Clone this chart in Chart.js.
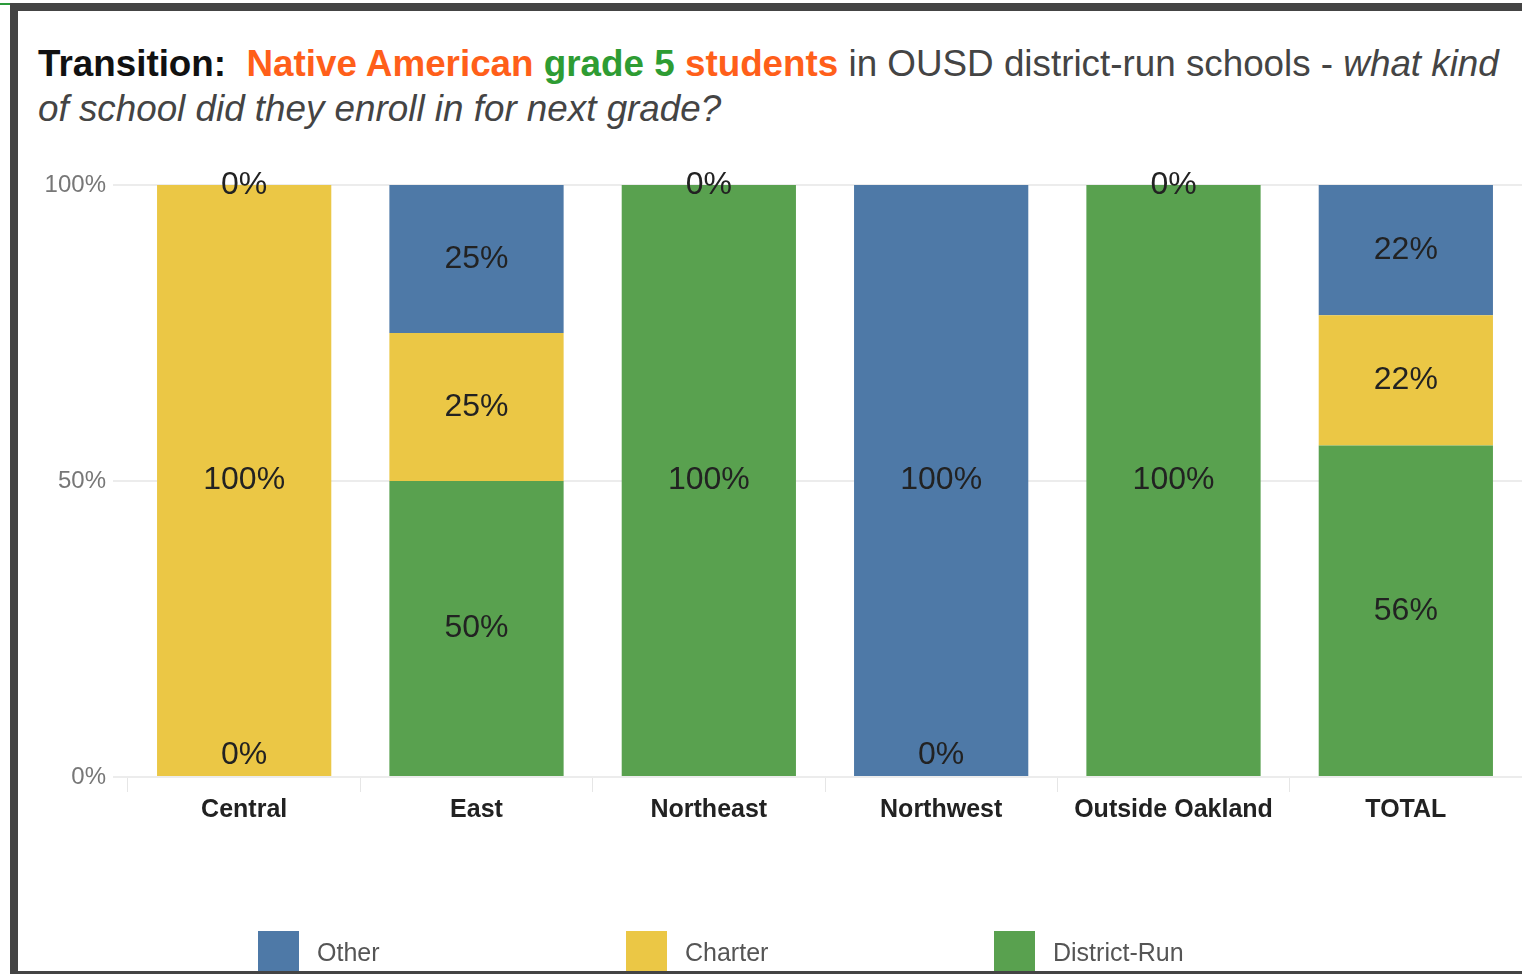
<!DOCTYPE html>
<html>
<head>
<meta charset="utf-8">
<script src="https://cdn.jsdelivr.net/npm/chart.js@4/dist/chart.umd.min.js"></script>
<style>
    body { margin: 0; width: 1522px; height: 974px; background: #fff; overflow: hidden; font-family: 'Liberation Sans', Arial, sans-serif; }
    #frame { position: absolute; left: 10px; top: 3px; width: 1512px; height: 960px; border-left: 8px solid #444; border-top: 8px solid #444; border-bottom: 4px solid #444; box-sizing: content-box; }
    #corner { position: absolute; left: 0; top: 3px; width: 10px; height: 2px; background: #2a9a3a; }
    #title { position: absolute; left: 38px; top: 41px; font-size: 36.8px; line-height: 45px; color: #444; white-space: nowrap; }
    #title b.k { color: #111; }
    #title .o { color: #ff5f1a; font-weight: bold; }
    #title .g { color: #2e9c33; font-weight: bold; }
    #wrap { position: absolute; left: 18px; top: 150px; width: 1504px; height: 820px; }
    #legend { position: absolute; left: 258px; top: 931px; display: flex; }
    .item { width: 368px; display: flex; align-items: flex-start; }
    .box { width: 41px; height: 40px; margin-right: 18px; }
    .lbl { font-size: 25px; color: #555; line-height: 40px; margin-top: 1px; }
</style>
</head>
<body>
<div id="corner"></div>
<div id="frame"></div>
<div id="title"><b class="k">Transition:</b>&nbsp; <span class="o">Native American</span> <span class="g">grade 5</span> <span class="o">students</span> in OUSD district-run schools - <i>what kind</i><br><i>of school did they enroll in for next grade?</i></div>
<div id="wrap"><canvas id="myChart"></canvas></div>
<div id="legend"></div>
<script>
const regions = ['Central', 'East', 'Northeast', 'Northwest', 'Outside Oakland', 'TOTAL']
const districtRun = [0, 50, 100, 0, 100, 56]
const charter = [100, 25, null, null, null, 22]
const other = [0, 25, 0, 100, 0, 22]
const yTicks = [0, 50, 100]

const seriesNames = ['Other', 'Charter', 'District-Run']
const seriesColors = ['#4e79a7', '#ebc745', '#59a14f']

// etiquetas dentro das barras
const barLabels = {
    id: 'barLabels',
    afterDatasetsDraw(chart) {
        const ctx = chart.ctx
        const bottom = chart.chartArea.bottom
        ctx.save()
        ctx.font = '32px "Liberation Sans", Arial, sans-serif'
        ctx.fillStyle = '#222'
        ctx.textAlign = 'center'
        ctx.textBaseline = 'middle'
        chart.data.datasets.forEach((ds, i) => {
            chart.getDatasetMeta(i).data.forEach((bar, j) => {
                const v = ds.data[j]
                if (v === null || v === undefined) return
                const y = Math.min((bar.y + bar.base) / 2, bottom - 22)
                ctx.fillText(v + '%', bar.x, y)
            })
        })
        ctx.restore()
    }
}

const cfg = {
    type: 'bar',
    data: {
        labels: regions,
        datasets: [
            { label: seriesNames[2], data: districtRun, backgroundColor: seriesColors[2] },
            { label: seriesNames[1], data: charter, backgroundColor: seriesColors[1] },
            { label: seriesNames[0], data: other, backgroundColor: seriesColors[0] }
        ]
    },
    options: {
        responsive: true,
        maintainAspectRatio: false,
        animation: false,
        categoryPercentage: 0.75,
        barPercentage: 1,
        layout: { padding: { top: 35, right: 0, left: 0, bottom: 0 } },
        scales: {
            x: {
                stacked: true,
                afterFit: (axis) => { axis.height = 193 },
                ticks: {
                    color: '#222',
                    padding: 3,
                    font: { size: 25, weight: 'bold', family: '"Liberation Sans", Arial, sans-serif' }
                },
                grid: {
                    offset: true,
                    drawOnChartArea: false,
                    tickLength: 15,
                    color: '#e6e6e6'
                },
                border: { display: false }
            },
            y: {
                stacked: true,
                min: 0,
                max: 100,
                afterFit: (axis) => { axis.width = 110 },
                afterBuildTicks: (axis) => { axis.ticks = yTicks.map(v => ({ value: v })) },
                ticks: {
                    color: '#777',
                    padding: 7,
                    font: { size: 24, family: '"Liberation Sans", Arial, sans-serif' },
                    callback: (v) => v + '%'
                },
                grid: {
                    color: '#ececec',
                    lineWidth: 2,
                    tickLength: 15
                },
                border: { display: false }
            }
        },
        plugins: {
            legend: { display: false },
            tooltip: { enabled: false }
        }
    },
    plugins: [barLabels]
}

const ctx = document.getElementById('myChart').getContext('2d')
const myChart = new Chart(ctx, cfg)

// legenda em html
const legend = document.getElementById('legend')
seriesNames.forEach((name, i) => {
    const item = document.createElement('div')
    item.className = 'item'
    item.innerHTML = '<div class="box" style="background:' + seriesColors[i] + '"></div><div class="lbl">' + name + '</div>'
    legend.appendChild(item)
})
</script>
</body>
</html>
